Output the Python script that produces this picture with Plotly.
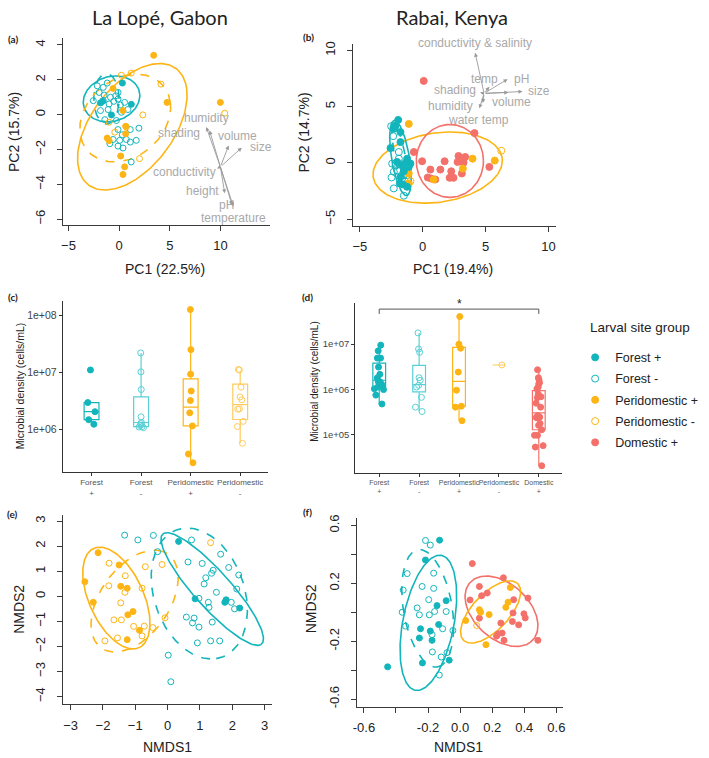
import numpy as np
import plotly.graph_objects as go

W, H = 709, 758
TEAL = "#13B5BC"
TEAL_L = "#58D0D6"
ORANGE = "#FDB515"
ORANGE_L = "#FFCB5C"
RED = "#F3716A"
GREY = "#A9A9A9"
AX = "#3a3a3a"
FONT = "Liberation Sans"

# ---------------- (a) PCA La Lope ----------------
a_forest_p_x = [0.32, 1.20, -1.84, -0.76, -1.64]
a_forest_p_y = [1.81, 0.59, 0.67, -0.02, 0.76]
a_forest_m_x = [-2.16, -1.57, -1.18, -1.97, -1.48, -0.86, -0.34, -0.11, -2.55, -1.57, -0.99, -0.53,
                -0.11, 0.12, 0.54, 0.22, 0.87, -1.84, -1.09, -1.41, -0.27, 1.10, -0.11, -0.60, 0.06,
                0.71, 1.10, 1.69, -0.11, 0.38, -0.92, 1.19, 1.95, 0.31]
a_forest_m_y = [1.65, 1.56, 1.81, 1.27, 1.12, 0.99, 1.08, 1.27, 0.80, 0.80, 0.61, 0.76,
                0.89, 0.55, 0.70, 0.13, 0.29, 0.23, 0.29, -0.29, -0.34, -0.86, -0.86, -1.43, -1.48,
                -1.43, -1.58, -1.48, -1.81, -1.92, -1.67, -2.72, -0.78, -1.16]
a_peri_p_x = [3.41, 4.72, 9.99, -0.60, 0.38, 0.64, 0.64, -1.18, -0.99, 0.15, 0.54, 0.38]
a_peri_p_y = [3.40, 0.70, 0.70, 1.50, 0.23, -1.10, -0.67, -1.35, -1.50, -2.38, -3.00, -3.44]
a_peri_m_x = [0.22, 1.19, 4.13, 2.34, 10.42, 2.01, 0.71, -0.43, -0.99]
a_peri_m_y = [2.26, 2.38, 1.75, -0.02, 0.08, -2.53, -0.72, -1.01, -0.44]

# ellipses: group, centre, semi-axes, angle(deg)
a_ell_group = ["forest+", "forest-", "peri+", "peri-"]
a_ell_cx = [-0.75, -1.25, 1.30, 0.60]
a_ell_cy = [0.90, 0.90, -0.70, -0.20]
a_ell_a = [2.8, 1.25, 5.82, 4.54]
a_ell_b = [1.3, 1.45, 2.92, 2.41]
a_ell_ang = [5, 0, 25.4, 11]

a_var_names = ["humidity", "shading", "volume", "size", "conductivity", "height", "pH", "temperature"]
a_var_x = [8.60, 8.92, 10.81, 12.10, 9.67, 10.42, 11.14, 11.27]
a_var_y = [-0.72, -0.91, -1.77, -1.90, -3.10, -4.52, -5.19, -5.27]
a_origin = (9.99, -3.00)
a_lab_x = [8.63, 5.92, 11.70, 13.95, 6.41, 8.20, 10.55, 11.30]
a_lab_y = [-0.18, -1.06, -1.24, -1.86, -3.29, -4.39, -5.19, -5.91]

# ---------------- (b) PCA Rabai ----------------
b_dom_x = [0.08, 4.12, -0.71, -0.05, 0.61, 1.40, 1.74, 2.85, 3.38, 3.03, 2.77, 2.27, 2.45, 2.14,
           0.40, 1.00, 0.66, 3.11, 5.30, 3.25]
b_dom_y = [7.29, 2.65, 0.97, 0.15, -0.59, -0.59, 0.15, 0.62, 0.53, 0.24, 0.09, -0.74, -1.32, -1.32,
           -1.29, -1.47, -1.38, -0.94, -0.35, 0.03]
b_peri_p_x = [-1.11, 3.96, 5.73, 3.19, 0.87, -1.11, -1.11]
b_peri_p_y = [3.47, 0.38, 0.21, -0.50, -1.47, -0.94, -1.82]
b_peri_m_x = [6.25, -0.98]
b_peri_m_y = [1.09, -1.62]
b_forest_p_x = [-1.95, -2.16, -1.77, -2.56, -1.77, -1.24, -1.11, -1.50, -1.82, -1.56, -1.24, -2.03,
                -1.64, -1.37, -0.98, -1.77, -2.30]
b_forest_p_y = [3.82, 3.32, 2.74, 1.32, 1.85, 0.38, -0.35, -0.74, -1.82, -1.91, -2.12, 0.09,
                -0.21, 0.00, -0.06, -1.24, 3.03]
b_forest_m_x = [-2.51, -2.35, -2.43, -2.30, -2.48, -2.30, -1.64, -2.03, -1.50, -1.90, -2.16, -1.24,
                -1.50, -1.90]
b_forest_m_y = [3.26, 2.38, -0.06, -0.79, -1.29, -2.26, -1.38, -0.65, -1.09, 0.97, -0.21, -1.09,
                -2.91, 0.38]

b_ell_group = ["peri+", "dom+", "forest+", "forest-"]
b_ell_cx = [1.19, 2.16, -1.77, -1.80]
b_ell_cy = [-0.41, 0.18, 0.44, 0.60]
b_ell_a = [5.2, 2.67, 3.37, 3.0]
b_ell_b = [3.07, 3.24, 0.71, 0.42]
b_ell_ang = [10.5, 0, -81.6, -80]

b_var_names = ["conductivity & salinity", "temp", "pH", "size", "volume", "shading", "humidity", "water temp"]
b_var_x = [4.17, 5.30, 6.75, 7.94, 6.81, 4.56, 4.51, 4.78]
b_var_y = [9.79, 6.76, 7.44, 6.35, 6.26, 6.26, 4.85, 5.32]
b_origin = (4.88, 6.18)
b_lab_x = [4.17, 4.88, 7.86, 9.26, 7.07, 2.59, 2.19, 4.43]
b_lab_y = [10.68, 7.50, 7.44, 6.35, 5.38, 6.47, 5.05, 3.82]

# ---------------- (c) microbial density La Lope ----------------
c_cats = ["Forest<br>+", "Forest<br>-", "Peridomestic<br>+", "Peridomestic<br>-"]
c_forest_p = [1.1e7, 2.95e6, 2.04e6, 1.48e6, 1.23e6]
c_forest_m = [2.19e7, 1.02e7, 5.0e6, 1.66e6, 1.32e6, 1.26e6, 1.12e6, 1.07e6, 1.17e6, 1.10e6]
c_peri_p = [1.26e8, 2.5e7, 9.3e6, 4.7e6, 3.2e6, 1.95e6, 1.15e6, 3.7e5, 2.6e5]
c_peri_m = [1.12e7, 1.1e7, 5.5e6, 3.7e6, 3.3e6, 2.3e6, 2.25e6, 1.38e6, 1.12e6, 5.7e5]
c_q1 = [1.48e6, 1.12e6, 1.15e6, 1.49e6]
c_med = [2.04e6, 1.32e6, 2.46e6, 2.72e6]
c_q3 = [2.95e6, 3.7e6, 7.7e6, 6.2e6]
c_lo = [1.23e6, 1.07e6, 2.6e5, 5.7e5]
c_hi = [2.95e6, 2.19e7, 1.26e8, 1.05e7]

# ---------------- (d) microbial density Rabai ----------------
d_cats = ["Forest<br>+", "Forest<br>-", "Peridomestic<br>+", "Peridomestic<br>-", "Domestic<br>+"]
d_forest_p = [9.5e6, 7.1e6, 4.9e6, 4.9e6, 3.1e6, 2.14e6, 1.78e6, 1.51e6, 1.45e6, 1.38e6, 1.26e6,
              1.12e6, 1.02e6, 9.8e5, 7.4e5, 4.7e5]
d_forest_m = [1.78e7, 7.8e6, 6.6e6, 1.8e6, 1.58e6, 1.22e6, 1.12e6, 6.6e5, 4.0e5, 3.2e5]
d_peri_p = [4.1e7, 1.0e7, 8.1e6, 2.4e6, 9.5e5, 4.2e5, 4.0e5, 2.0e5]
d_peri_m = [3.45e6]
d_dom_p = [2.7e6, 1.8e6, 1.63e6, 1.4e6, 1.32e6, 1.12e6, 1.02e6, 7.8e5, 6.8e5, 6.5e5, 4.9e5, 4.0e5,
           2.6e5, 2.4e5, 2.3e5, 2.35e5, 1.74e5, 1.58e5, 1.26e5, 9.5e4, 9.5e4, 5.6e4, 5.2e4, 2.0e4]
d_q1 = [1.12e6, 8.7e5, 4.2e5, 3.45e6, 1.26e5]
d_med = [1.58e6, 1.26e6, 1.5e6, 3.45e6, 3.0e5]
d_q3 = [3.8e6, 3.4e6, 8.5e6, 3.45e6, 9.3e5]
d_lo = [4.7e5, 3.2e5, 2.0e5, 3.45e6, 2.0e4]
d_hi = [9.5e6, 1.78e7, 4.1e7, 3.45e6, 2.7e6]
d_sig_low, d_sig_high, d_sig_star = 4.7e7, 6.0e7, 7.6e7

# ---------------- (e) NMDS La Lope ----------------
e_peri_p_x = [-2.15, -2.56, -2.30, -1.50, -1.45, -1.25, -1.23, -1.07, -0.87, -1.25]
e_peri_p_y = [1.74, 0.58, -0.24, 1.25, 0.40, 0.32, -0.74, -0.61, -1.36, -1.73]
e_peri_m_x = [-1.81, -1.82, -1.31, -1.32, -1.45, -1.66, -1.43, -1.05, -0.72, -0.79, -1.94, -1.55,
              -0.69, -0.46, -0.08, -0.17, 1.33, -0.79]
e_peri_m_y = [1.32, 0.42, 0.82, 0.16, -0.26, -0.94, -0.94, -1.20, -1.19, -1.58, -1.78, -1.66,
              1.18, -1.25, -0.86, 1.27, 2.14, 0.32]
e_forest_p_x = [0.34, 0.85, 1.81, 1.77, 2.23]
e_forest_p_y = [2.19, -0.10, -0.14, -0.24, -0.47]
e_forest_m_x = [-1.33, -0.92, -0.44, -0.31, 0.74, 0.63, 1.07, 1.41, 1.36, 1.18, 1.13, 1.64, 1.89, 2.20,
                2.14, 1.51, 0.97, 1.26, 1.28, 1.97, 2.07, 1.38, 0.58, 0.82, 0.77, 0.97, 0.92, 1.33,
                1.61, 0.02, 0.10]
e_forest_m_y = [2.44, 2.25, 2.43, 1.78, 2.25, 1.37, 1.31, 1.04, 0.92, 0.74, 0.49, 1.68, 1.15, 0.85,
                0.29, 0.16, -0.08, -0.24, -0.44, -0.24, -0.50, -1.03, -0.83, -0.87, -1.06, -1.23,
                -1.86, -1.78, -1.78, -2.35, -3.41]
e_ell_group = ["peri+", "peri-", "forest+", "forest-"]
e_ell_cx = [-1.585, -1.02, 1.38, 0.98]
e_ell_cy = [-0.07, -0.19, 0.29, 0.11]
e_ell_a = [2.11, 2.16, 2.68, 2.65]
e_ell_b = [0.87, 1.13, 0.62, 1.42]
e_ell_ang = [-72.8, 66.4, -56, -78.6]

# ---------------- (f) NMDS Rabai ----------------
f_forest_p_x = [-0.128, -0.216, -0.087, -0.144, -0.134, -0.247, -0.254, -0.186, -0.175, -0.068, -0.235, -0.452]
f_forest_p_y = [0.498, 0.361, 0.080, 0.046, -0.085, -0.114, -0.178, -0.130, -0.194, -0.331, -0.350, -0.377]
f_forest_m_x = [-0.216, -0.186, -0.330, -0.355, -0.237, -0.165, -0.165, -0.196, -0.268, -0.361, -0.254,
                -0.192, -0.159, -0.087, -0.340, -0.109, -0.045, -0.175, -0.173, -0.118, -0.130, -0.082]
f_forest_m_y = [0.496, 0.464, 0.267, 0.153, 0.178, 0.165, 0.270, 0.087, 0.030, 0.000, -0.018,
                -0.018, 0.005, 0.005, -0.096, -0.114, -0.126, -0.155, -0.274, -0.309, -0.434, -0.279]
f_dom_x = [0.076, 0.270, 0.120, 0.134, 0.169, 0.062, 0.334, 0.423, 0.120, 0.254, 0.330, 0.398, 0.406,
           0.326, 0.365, 0.237, 0.262, 0.227, 0.274, 0.485]
f_dom_y = [0.336, 0.238, 0.178, 0.114, 0.133, 0.085, 0.087, 0.098, -0.041, -0.075, -0.005, -0.011,
           -0.039, -0.064, -0.087, -0.149, -0.144, -0.165, -0.194, -0.194]
f_peri_p_x = [0.313, 0.299, 0.285, 0.120, 0.128, 0.181, 0.035, 0.161]
f_peri_p_y = [0.171, 0.069, 0.034, 0.018, 0.000, -0.016, -0.057, -0.224]
f_peri_m_x = [0.103]
f_peri_m_y = [-0.091]
f_ell_group = ["forest+", "forest-", "dom+", "peri+"]
f_ell_cx = [-0.198, -0.202, 0.258, 0.19]
f_ell_cy = [-0.073, 0.027, 0.007, 0.002]
f_ell_a = [0.473, 0.41, 0.28, 0.259]
f_ell_b = [0.160, 0.152, 0.18, 0.119]
f_ell_ang = [80.35, -81.7, -49.7, 51.1]

legend_names = ["Forest +", "Forest -", "Peridomestic +", "Peridomestic -", "Domestic +"]

# ---------------- styles ----------------
STYLE = {
    "forest+": dict(color=TEAL, symbol="circle", dash="solid"),
    "forest-": dict(color=TEAL, symbol="circle-open", dash="dash"),
    "peri+": dict(color=ORANGE, symbol="circle", dash="solid"),
    "peri-": dict(color=ORANGE, symbol="circle-open", dash="dash"),
    "dom+": dict(color=RED, symbol="circle", dash="solid"),
}


def px_dom_x(a, b):
    return [a / W, b / W]


def px_dom_y(top, bottom):
    return [1 - bottom / H, 1 - top / H]


# panel geometry (pixels) and axis ranges
A_X, A_Y = (59.3, 268), (35, 223.3)
A_XR, A_YR = [-5.56, 14.86], [-6.33, 4.41]
B_X, B_Y = (352.3, 556.7), (41.7, 224)
B_XR, B_YR = [-5.52, 10.6], [-5.56, 10.53]


def to_paper(v, rng, px0, px1):
    return px0 + (v - rng[0]) / (rng[1] - rng[0]) * (px1 - px0)


def ellipse(cx, cy, a, b, ang, n=160):
    t = np.linspace(0, 2 * np.pi, n)
    th = np.radians(ang)
    x = cx + a * np.cos(t) * np.cos(th) - b * np.sin(t) * np.sin(th)
    y = cy + a * np.cos(t) * np.sin(th) + b * np.sin(t) * np.cos(th)
    return x, y


fig = go.Figure()


def pts(x, y, key, ax, size=6):
    s = STYLE[key]
    fig.add_trace(go.Scatter(
        x=x, y=y, mode="markers", showlegend=False, hoverinfo="skip",
        xaxis="x" + ax, yaxis="y" + ax,
        marker=dict(color=s["color"], symbol=s["symbol"], size=size,
                    line=dict(width=1, color=s["color"]))))


def ells(groups, cxs, cys, aa, bb, angs, ax):
    for g, cx, cy, a, b, ang in zip(groups, cxs, cys, aa, bb, angs):
        x, y = ellipse(cx, cy, a, b, ang)
        s = STYLE[g]
        fig.add_trace(go.Scatter(
            x=x, y=y, mode="lines", showlegend=False, hoverinfo="skip",
            xaxis="x" + ax, yaxis="y" + ax,
            line=dict(color=s["color"], width=1.6, dash="dash" if s["dash"] == "dash" else "solid")))


# (a)
ells(a_ell_group, a_ell_cx, a_ell_cy, a_ell_a, a_ell_b, a_ell_ang, "")
pts(a_forest_m_x, a_forest_m_y, "forest-", "")
pts(a_peri_m_x, a_peri_m_y, "peri-", "")
pts(a_forest_p_x, a_forest_p_y, "forest+", "")
pts(a_peri_p_x, a_peri_p_y, "peri+", "")

# (b)
ells(b_ell_group, b_ell_cx, b_ell_cy, b_ell_a, b_ell_b, b_ell_ang, "2")
pts(b_forest_m_x, b_forest_m_y, "forest-", "2", 7)
pts(b_peri_m_x, b_peri_m_y, "peri-", "2", 7)
pts(b_dom_x, b_dom_y, "dom+", "2", 7)
pts(b_peri_p_x, b_peri_p_y, "peri+", "2", 7)
pts(b_forest_p_x, b_forest_p_y, "forest+", "2", 7)

# (e)
ells(e_ell_group, e_ell_cx, e_ell_cy, e_ell_a, e_ell_b, e_ell_ang, "5")
pts(e_forest_m_x, e_forest_m_y, "forest-", "5")
pts(e_peri_m_x, e_peri_m_y, "peri-", "5")
pts(e_forest_p_x, e_forest_p_y, "forest+", "5")
pts(e_peri_p_x, e_peri_p_y, "peri+", "5")

# (f)
ells(f_ell_group, f_ell_cx, f_ell_cy, f_ell_a, f_ell_b, f_ell_ang, "6")
pts(f_forest_m_x, f_forest_m_y, "forest-", "6")
pts(f_peri_m_x, f_peri_m_y, "peri-", "6")
pts(f_dom_x, f_dom_y, "dom+", "6")
pts(f_forest_p_x, f_forest_p_y, "forest+", "6")
pts(f_peri_p_x, f_peri_p_y, "peri+", "6")


# box plots
def boxes(cats, q1, med, q3, lo, hi, colors, ax, width):
    for c, a, m, b, l, h, col in zip(cats, q1, med, q3, lo, hi, colors):
        fig.add_trace(go.Box(
            x=[c], q1=[a], median=[m], q3=[b], lowerfence=[l], upperfence=[h],
            boxpoints=False, width=width, whiskerwidth=0, showlegend=False, hoverinfo="skip",
            line=dict(color=col, width=1.2), fillcolor="rgba(255,255,255,0)",
            xaxis="x" + ax, yaxis="y" + ax))


def jit(cat, vals, color, symbol, ax, width, jitter):
    fig.add_trace(go.Box(
        x=[cat] * len(vals), y=vals, boxpoints="all", jitter=jitter, pointpos=0,
        width=width, showlegend=False, hoverinfo="skip",
        line=dict(color="rgba(0,0,0,0)", width=0), fillcolor="rgba(0,0,0,0)",
        marker=dict(color=color, symbol=symbol, size=6, line=dict(width=1, color=color)),
        xaxis="x" + ax, yaxis="y" + ax))


boxes(c_cats, c_q1, c_med, c_q3, c_lo, c_hi, [TEAL, TEAL_L, ORANGE, ORANGE_L], "3", 0.3)
jit(c_cats[0], c_forest_p, TEAL, "circle", "3", 0.3, 0.6)
jit(c_cats[1], c_forest_m, TEAL_L, "circle-open", "3", 0.3, 0.6)
jit(c_cats[2], c_peri_p, ORANGE, "circle", "3", 0.3, 0.6)
jit(c_cats[3], c_peri_m, ORANGE_L, "circle-open", "3", 0.3, 0.6)

boxes(d_cats, d_q1, d_med, d_q3, d_lo, d_hi, [TEAL, TEAL_L, ORANGE, ORANGE_L, RED], "4", 0.32)
jit(d_cats[0], d_forest_p, TEAL, "circle", "4", 0.32, 0.9)
jit(d_cats[1], d_forest_m, TEAL_L, "circle-open", "4", 0.32, 0.9)
jit(d_cats[2], d_peri_p, ORANGE, "circle", "4", 0.32, 0.9)
jit(d_cats[3], d_peri_m, ORANGE_L, "circle-open", "4", 0.32, 0.9)
jit(d_cats[4], d_dom_p, RED, "circle", "4", 0.32, 0.9)

fig.add_trace(go.Scatter(
    x=[d_cats[0], d_cats[0], d_cats[4], d_cats[4]],
    y=[d_sig_low, d_sig_high, d_sig_high, d_sig_low],
    mode="lines", line=dict(color="#555", width=1), showlegend=False, hoverinfo="skip",
    xaxis="x4", yaxis="y4"))

# legend entries
leg_keys = ["forest+", "forest-", "peri+", "peri-", "dom+"]
for name, key in zip(legend_names, leg_keys):
    s = STYLE[key]
    col = s["color"]
    fig.add_trace(go.Scatter(
        x=[None], y=[None], mode="markers", name=name, legendgroup=name, xaxis="x", yaxis="y",
        marker=dict(color=col, symbol=s["symbol"], size=7, line=dict(width=1, color=col))))

annotations = []


def ann(text, x, y, size=12, color="#222", angle=0, family=FONT, xanchor="center", **kw):
    annotations.append(dict(text=text, x=x / W, y=1 - y / H, xref="paper", yref="paper",
                            showarrow=False, xanchor=xanchor, yanchor="middle",
                            textangle=angle, font=dict(size=size, color=color, family=family), **kw))


# biplot arrows
for names, vx, vy, org, lx, ly, ax, fs, XP, YP, XR, YR in [
        (a_var_names, a_var_x, a_var_y, a_origin, a_lab_x, a_lab_y, "x", 12, A_X, A_Y, A_XR, A_YR),
        (b_var_names, b_var_x, b_var_y, b_origin, b_lab_x, b_lab_y, "x2", 12, B_X, B_Y, B_XR, B_YR)]:
    ay = ax.replace("x", "y")
    for n, x, y, tx, ty in zip(names, vx, vy, lx, ly):
        annotations.append(dict(x=x, y=y, ax=org[0], ay=org[1], xref=ax, yref=ay, axref=ax, ayref=ay,
                                showarrow=True, arrowhead=2, arrowsize=0.9, arrowwidth=0.9,
                                arrowcolor="#9a9a9a", text=""))
        px = to_paper(tx, XR, XP[0], XP[1])
        py = to_paper(ty, YR, YP[1], YP[0])
        ann(n, px, py, size=fs, color=GREY)

annotations.append(dict(x=d_cats[2], y=np.log10(d_sig_star), xref="x4", yref="y4", text="*",
                        showarrow=False, font=dict(size=12, color="#222", family=FONT)))

# titles and panel labels
ann("La Lopé, Gabon", 157, 14, size=20, family="Lato")
ann("Rabai, Kenya", 452, 14, size=20, family="Lato")
for lab, x, y in [("(a)", 9, 36), ("(b)", 307, 34), ("(c)", 9, 296), ("(d)", 306, 296),
                  ("(e)", 9, 514), ("(f)", 306, 512)]:
    ann("<b>%s</b>" % lab, x, y, size=10, family="Lato")

ann("PC2 (15.7%)", 10, 130, size=14, angle=-90)
ann("PC1 (22.5%)", 162, 268, size=14)
ann("PC2 (14.7%)", 303, 130, size=14, angle=-90)
ann("PC1 (19.4%)", 453, 268, size=14)
ann("Microbial density (cells/mL)", 17, 385, size=10.5, angle=-90)
ann("Microbial density (cells/mL)", 313, 381, size=10, angle=-90)
ann("NMDS2", 15, 610, size=14, angle=-90)
ann("NMDS1", 165, 749, size=14)
ann("NMDS2", 310, 610, size=14, angle=-90)
ann("NMDS1", 458, 749, size=14)
ann("Larval site group", 589, 327, size=13.5, xanchor="left")


def rax(dom, rng, tickvals, ticktext=None, angle=0, anchor=None, standoff=4):
    d = dict(domain=dom, range=rng, showline=True, linecolor=AX, linewidth=1, ticks="outside",
             ticklen=5, tickcolor=AX, showgrid=False, zeroline=False, tickvals=tickvals,
             tickfont=dict(size=13, color="#222", family=FONT), tickangle=angle, anchor=anchor,
             ticklabelstandoff=standoff)
    if ticktext is not None:
        d["ticktext"] = ticktext
    return d


def gax_x(dom, rng, cats, size, anchor):
    return dict(domain=dom, range=rng, type="category", categoryorder="array", categoryarray=cats,
                showline=True, linecolor="#333", linewidth=1, ticks="outside", ticklen=3,
                tickcolor="#333", showgrid=False, zeroline=False, anchor=anchor, tickangle=0,
                tickfont=dict(size=size, color="#555", family=FONT))


def gax_y(dom, rng, tickvals, ticktext, size, anchor):
    return dict(domain=dom, range=rng, type="log", showline=True, linecolor="#333", linewidth=1,
                ticks="outside", ticklen=3, tickcolor="#333", showgrid=False, zeroline=False,
                tickvals=tickvals, ticktext=ticktext, anchor=anchor,
                tickfont=dict(size=size, color="#444", family=FONT))


fig.update_layout(
    width=W, height=H, margin=dict(l=0, r=0, t=0, b=0),
    paper_bgcolor="white", plot_bgcolor="white",
    font=dict(family=FONT),
    boxmode="overlay",
    xaxis=rax(px_dom_x(*A_X), A_XR, [-5, 0, 5, 10], anchor="y"),
    yaxis=rax(px_dom_y(*A_Y), A_YR, [-6, -4, -2, 0, 2, 4], angle=-90, anchor="x", standoff=7),
    xaxis2=rax(px_dom_x(*B_X), B_XR, [-5, 0, 5, 10], anchor="y2"),
    yaxis2=rax(px_dom_y(*B_Y), B_YR, [-5, 0, 5, 10], angle=-90, anchor="x2", standoff=7),
    xaxis3=gax_x(px_dom_x(59.3, 266.7), [-0.58, 3.57], c_cats, 8, "y3"),
    yaxis3=gax_y(px_dom_y(300, 471.7), [5.26, 8.25], [1e6, 1e7, 1e8], ["1e+06", "1e+07", "1e+08"], 10.5, "x3"),
    xaxis4=gax_x(px_dom_x(354.3, 562.7), [-0.6, 4.58], d_cats, 7, "y4"),
    yaxis4=gax_y(px_dom_y(301.7, 472.7), [4.15, 7.92], [1e5, 1e6, 1e7], ["1e+05", "1e+06", "1e+07"], 9.5, "x4"),
    xaxis5=rax(px_dom_x(60, 270), [-3.22, 3.22], [-3, -2, -1, 0, 1, 2, 3], anchor="y5"),
    yaxis5=rax(px_dom_y(515, 705.7), [-4.3, 3.26], [-4, -3, -2, -1, 0, 1, 2, 3], angle=-90, anchor="x5", standoff=7),
    xaxis6=rax(px_dom_x(355.7, 564), [-0.645, 0.643], [-0.6, -0.4, -0.2, 0, 0.2, 0.4, 0.6],
               ["-0.6", "", "-0.2", "0.0", "0.2", "0.4", "0.6"], anchor="y6"),
    yaxis6=rax(px_dom_y(518, 708.3), [-0.652, 0.654], [-0.6, -0.4, -0.2, 0, 0.2, 0.4, 0.6],
               ["-0.6", "", "-0.2", "", "0.2", "", "0.6"], angle=-90, anchor="x6", standoff=7),
    legend=dict(x=576 / W, y=1 - 342 / H, xanchor="left", yanchor="top",
                font=dict(size=12.5, color="#222"), bgcolor="rgba(0,0,0,0)", itemwidth=30,
                tracegroupgap=2),
    annotations=annotations,
)

fig.write_html("out.html", config={"displayModeBar": False},
               post_script="document.body.style.margin='0px';")
